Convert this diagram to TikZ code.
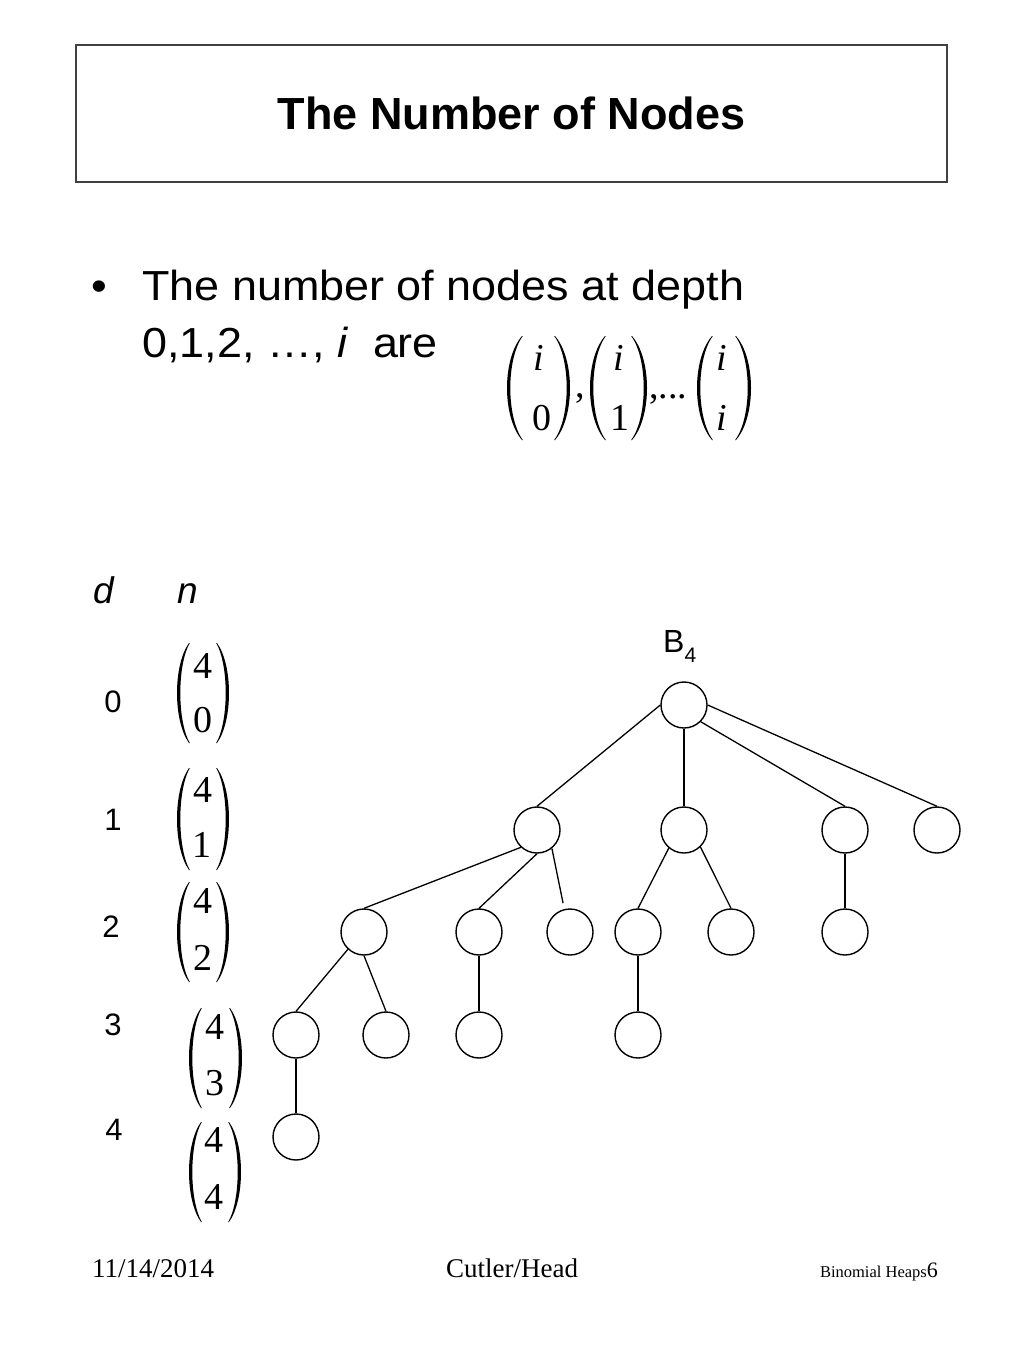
\documentclass[tikz,border=0pt]{standalone}
\usepackage{fontspec}
\setmainfont{Liberation Sans}
\newfontfamily\tms{Liberation Serif}
\newfontfamily\bodyf{Liberation Sans}[FakeStretch=1.07]
% left paren: #1 leftmost x, #2 top y, #3 bottom y, #4 width
\newcommand\lpar[4]{%
  \fill ({#1+#4},#2) .. controls ({#1-#4/3},{#2+0.22*(#3-#2)}) and ({#1-#4/3},{#3-0.22*(#3-#2)}) .. ({#1+#4},#3)
   -- ({#1+#4+0.8},#3) .. controls ({#1+(8*3.3-2*#4-1.6)/6},{#3-0.22*(#3-#2)}) and ({#1+(8*3.3-2*#4-1.6)/6},{#2+0.22*(#3-#2)}) .. ({#1+#4+0.8},#2) -- cycle;}
% right paren: #1 rightmost x
\newcommand\rpar[4]{%
  \fill ({#1-#4},#2) .. controls ({#1+#4/3},{#2+0.22*(#3-#2)}) and ({#1+#4/3},{#3-0.22*(#3-#2)}) .. ({#1-#4},#3)
   -- ({#1-#4-0.8},#3) .. controls ({#1-(8*3.3-2*#4-1.6)/6},{#3-0.22*(#3-#2)}) and ({#1-(8*3.3-2*#4-1.6)/6},{#2+0.22*(#3-#2)}) .. ({#1-#4-0.8},#2) -- cycle;}
\begin{document}
\begin{tikzpicture}[x=1pt,y=-1pt,
  tn/.style={circle, draw, line width=1.4pt, minimum size=46pt, inner sep=0pt},
  edge/.style={line width=1.3pt},
  bn/.style={font=\tms\fontsize{38}{40}\selectfont, inner sep=0pt, anchor=center},
  dig/.style={font=\fontsize{31}{34}\selectfont, anchor=base, inner sep=0pt},
  lab/.style={font=\fontsize{37}{40}\selectfont\itshape, anchor=base west, inner sep=0pt},
  body/.style={font=\bodyf\fontsize{42}{50}\selectfont, anchor=base west, inner sep=0pt},
  foot/.style={font=\tms\fontsize{27}{30}\selectfont, inner sep=0pt}]
\fill[white] (0,0) rectangle (1024,1365);
\useasboundingbox (0,0) rectangle (1024,1365);

% title
\node[draw=black!75, line width=1.6pt, minimum width=871pt, minimum height=137pt, inner sep=0pt,
      font=\fontsize{45}{50}\selectfont\bfseries] (title) at (511.5,113.5) {The Number of Nodes};

% bullet text
\node[body] (bul) at (91,300) {•};
\node[body] (l1) at (142,300) {The number of nodes at depth};
\node[body] (l2) at (142,357) {0,1,2, …, \textit{i} \ are};

% top binomials
\lpar{507}{336}{440}{15} \rpar{570}{336}{440}{15}
\node[bn] (t1a) at (539,358) {\itshape i};
\node[bn] (t1b) at (542,418) {0};
\node[bn, anchor=base west] (cm1) at (575,397) {,};
\lpar{590}{336}{440}{15} \rpar{647}{336}{440}{15}
\node[bn] (t2a) at (619,358) {\itshape i};
\node[bn] (t2b) at (620,418) {1};
\node[bn, anchor=base west] (cm2) at (649,398) {,...};
\lpar{697}{336}{440}{15} \rpar{751}{336}{440}{15}
\node[bn] (t3a) at (722,358) {\itshape i};
\node[bn] (t3b) at (722,418) {\itshape i};

% d / n header
\node[lab] (dl) at (93,603) {d};
\node[lab] (nl) at (177,603) {n};

% depth digits
\node[dig] (z0) at (113,712) {0};
\node[dig] (z1) at (113,830) {1};
\node[dig] (z2) at (111,937) {2};
\node[dig] (z3) at (113,1035) {3};
\node[dig] (z4) at (114,1140) {4};

% left column binomials
\lpar{177}{643}{743}{12} \rpar{229}{643}{743}{12}
\node[bn] (b0a) at (203,666) {4};
\node[bn] (b0b) at (203,720) {0};
\lpar{177}{768}{870}{12} \rpar{229}{768}{870}{12}
\node[bn] (b1a) at (203,790) {4};
\node[bn] (b1b) at (202,845) {1};
\lpar{177}{882}{982}{12} \rpar{229}{882}{982}{12}
\node[bn] (b2a) at (203,901) {4};
\node[bn] (b2b) at (203,958) {2};
\lpar{189}{1008}{1108}{12} \rpar{242}{1008}{1108}{12}
\node[bn] (b3a) at (215,1027) {4};
\node[bn] (b3b) at (215,1083) {3};
\lpar{189}{1122}{1222}{12} \rpar{241}{1122}{1222}{12}
\node[bn] (b4a) at (214,1140) {4};
\node[bn] (b4b) at (214,1197) {4};

% B4 label
\node[anchor=base west, inner sep=0pt, font=\fontsize{32}{36}\selectfont] (blab) at (663,652)
  {B\raisebox{-10pt}{\fontsize{21}{24}\selectfont 4}};

% tree
\node[tn] (r) at (684,705) {};
\node[tn] (c1) at (537,830) {};
\node[tn] (c2) at (684,830) {};
\node[tn] (c3) at (845,830) {};
\node[tn] (c4) at (937,830) {};
\node[tn] (d1) at (364,932) {};
\node[tn] (d2) at (479,932) {};
\node[tn] (d3) at (570,932) {};
\node[tn] (d4) at (638,932) {};
\node[tn] (d5) at (731,932) {};
\node[tn] (d6) at (845,932) {};
\node[tn] (e1) at (296,1035) {};
\node[tn] (e2) at (386,1035) {};
\node[tn] (e3) at (479,1035) {};
\node[tn] (e4) at (638,1035) {};
\node[tn] (f1) at (296,1137) {};

\draw[edge] (r.west) -- (c1.north);
\draw[edge] (r.south) -- (c2.north);
\draw[edge] (r.-45) -- (c3.north);
\draw[edge] (r.east) -- (c4.north);
\draw[edge] (c1.227) -- (d1.north);
\draw[edge] (c1.south) -- (d2.north);
\draw[edge, shorten >=6pt] (c1.-51) -- (d3.104);
\draw[edge] (c2.230) -- (d4.north);
\draw[edge] (c2.-46) -- (d5.north);
\draw[edge] (c3.south) -- (d6.north);
\draw[edge] (d1.227) -- (e1.north);
\draw[edge] (d1.south) -- (e2.north);
\draw[edge] (d2.south) -- (e3.north);
\draw[edge] (d4.south) -- (e4.north);
\draw[edge] (e1.south) -- (f1.north);

% footer
\node[foot, anchor=base west] (fdate) at (92,1277) {11/14/2014};
\node[foot, anchor=base] (fauth) at (512,1277) {Cutler/Head};
\node[anchor=base east, inner sep=0pt, font=\tms] (fpage) at (938,1277)
  {{\fontsize{16.5}{18}\selectfont Binomial Heaps}{\fontsize{22}{24}\selectfont 6}};
\end{tikzpicture}
\end{document}
